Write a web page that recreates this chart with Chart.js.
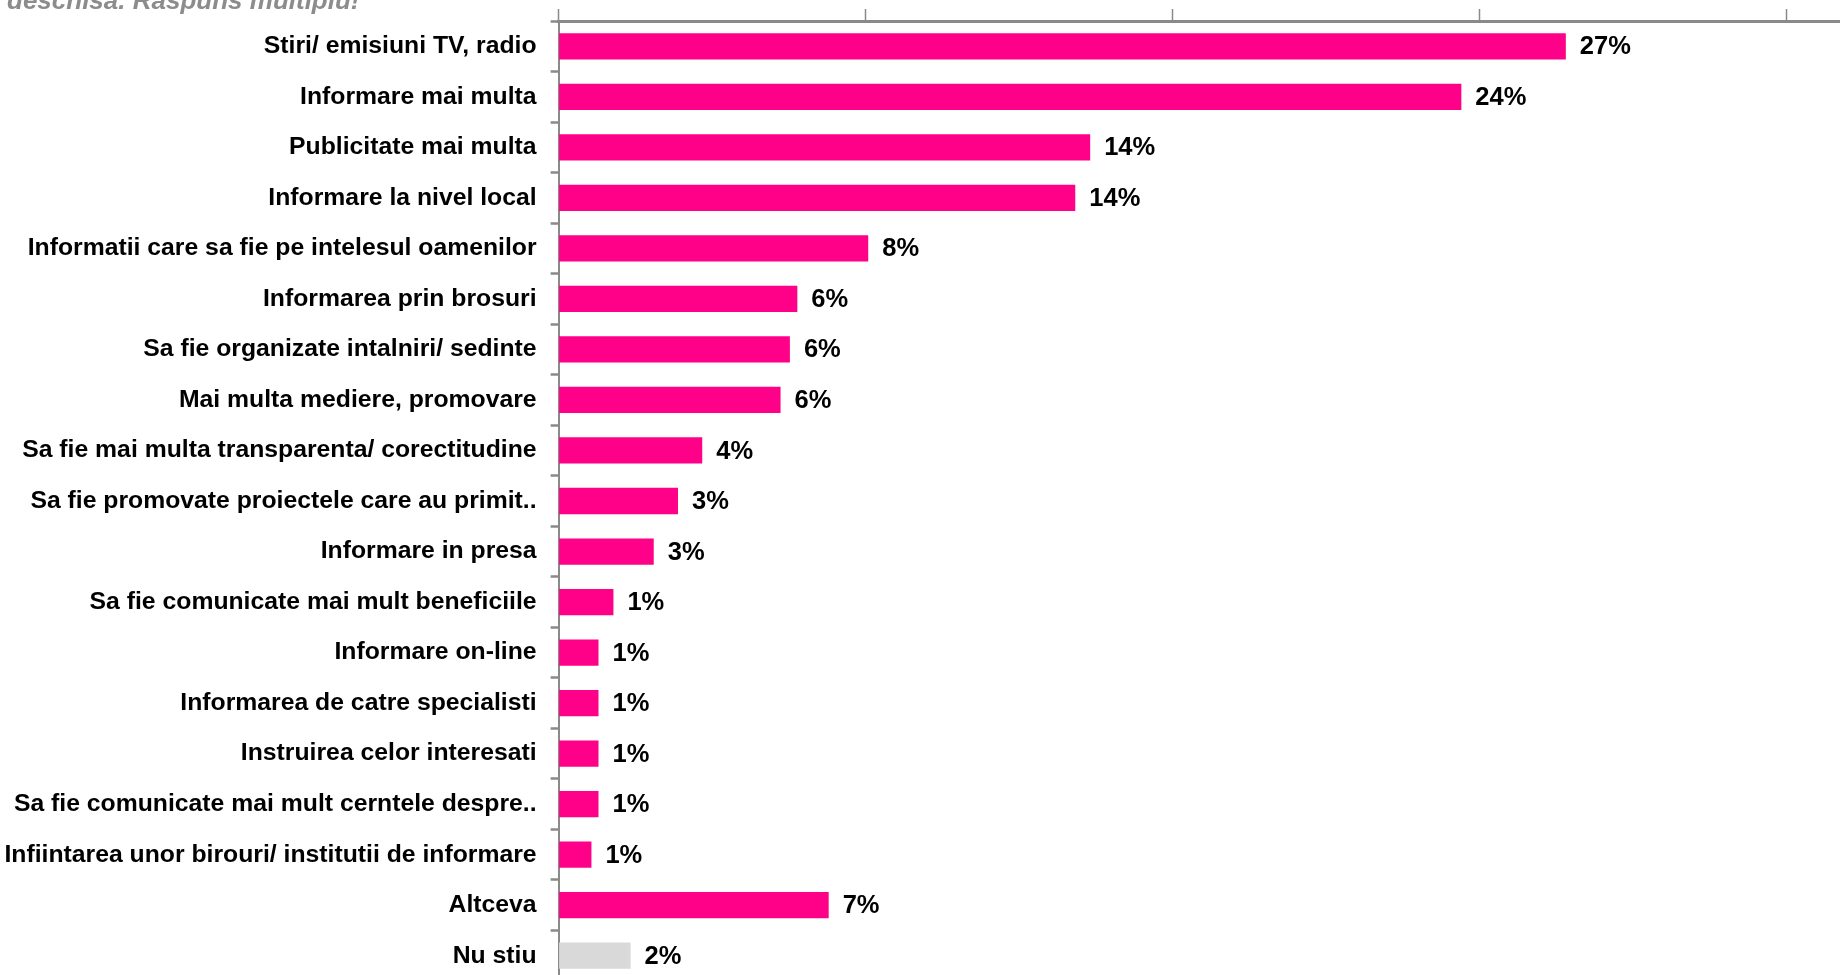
<!DOCTYPE html>
<html>
<head>
<meta charset="utf-8">
<script src="https://cdn.jsdelivr.net/npm/chart.js@4"></script>
<style>
  html, body { margin: 0; padding: 0; background: #fff; overflow: hidden; }
  #wrap { position: relative; width: 1840px; height: 982px; }
</style>
</head>
<body>
<div id="wrap"><canvas id="c"></canvas></div>
<script>
const titleText = "deschisa. Raspuns multiplu!";
const categories = [
  "Stiri/ emisiuni TV, radio",
  "Informare mai multa",
  "Publicitate mai multa",
  "Informare la nivel local",
  "Informatii care sa fie pe intelesul oamenilor",
  "Informarea prin brosuri",
  "Sa fie organizate intalniri/ sedinte",
  "Mai multa mediere, promovare",
  "Sa fie mai multa transparenta/ corectitudine",
  "Sa fie promovate proiectele care au primit..",
  "Informare in presa",
  "Sa fie comunicate mai mult beneficiile",
  "Informare on-line",
  "Informarea de catre specialisti",
  "Instruirea celor interesati",
  "Sa fie comunicate mai mult cerntele despre..",
  "Infiintarea unor birouri/ institutii de informare",
  "Altceva",
  "Nu stiu"
];
const values = [27.0, 24.2, 14.25, 13.85, 8.3, 6.4, 6.2, 5.95, 3.85, 3.2, 2.55, 1.47, 1.07, 1.07, 1.07, 1.07, 0.88, 7.24, 1.93];
const barColors = ["#ff0088","#ff0088","#ff0088","#ff0088","#ff0088","#ff0088","#ff0088","#ff0088","#ff0088","#ff0088","#ff0088","#ff0088","#ff0088","#ff0088","#ff0088","#ff0088","#ff0088","#ff0088","#d9d9d9"];
const axisMax = 34.35;
const gridSteps = [0, 8.23, 16.46, 24.69, 32.92];

const FONT = '"Liberation Sans", Arial, sans-serif';

const valueLabels = {
  id: 'valueLabels',
  afterDatasetsDraw(chart) {
    const ctx = chart.ctx;
    const meta = chart.getDatasetMeta(0);
    ctx.save();
    ctx.font = 'bold 25.5px ' + FONT;
    ctx.fillStyle = '#000';
    ctx.textAlign = 'left';
    ctx.textBaseline = 'middle';
    meta.data.forEach((el, i) => {
      ctx.fillText(Math.round(values[i]) + '%', el.x + 14, el.y + 1);
    });
    ctx.restore();
  }
};

const topTitle = {
  id: 'topTitle',
  afterDraw(chart) {
    const ctx = chart.ctx;
    ctx.save();
    ctx.font = 'italic bold 26px ' + FONT;
    ctx.fillStyle = '#8c8c8c';
    ctx.textAlign = 'left';
    ctx.textBaseline = 'alphabetic';
    ctx.fillText(titleText, 7, 9);
    ctx.restore();
  }
};

function zeroPad(scale) {
  scale.paddingTop = 0; scale.paddingBottom = 0;
  scale.paddingLeft = 0; scale.paddingRight = 0;
}

new Chart(document.getElementById('c'), {
  type: 'bar',
  data: {
    labels: categories,
    datasets: [{
      data: values,
      backgroundColor: barColors,
      borderWidth: 0,
      categoryPercentage: 1,
      barPercentage: 0.52
    }]
  },
  options: {
    indexAxis: 'y',
    responsive: true,
    maintainAspectRatio: false,
    animation: false,
    layout: { padding: { top: 0, right: 0, bottom: 1, left: 0 } },
    plugins: { legend: { display: false }, tooltip: { enabled: false }, title: { display: false } },
    scales: {
      x: {
        position: 'top',
        min: 0,
        max: axisMax,
        afterBuildTicks(scale) { scale.ticks = gridSteps.map(v => ({ value: v })); },
        afterFit(scale) { scale.height = 21; zeroPad(scale); },
        ticks: { display: false },
        grid: { drawOnChartArea: false, drawTicks: true, tickLength: 12, tickWidth: 1.5, tickColor: '#8a8a8a' },
        border: { display: true, color: '#8a8a8a', width: 3 }
      },
      y: {
        afterFit(scale) { scale.width = 558.6; zeroPad(scale); },
        ticks: { color: '#000', font: { family: FONT, size: 24.75, weight: 'bold' }, padding: 14, autoSkip: false },
        grid: { drawOnChartArea: false, drawTicks: true, tickLength: 8, tickWidth: 2.5, tickColor: '#8a8a8a', offset: true },
        border: { display: true, color: '#8a8a8a', width: 2 }
      }
    }
  },
  plugins: [valueLabels, topTitle]
});
</script>
</body>
</html>
